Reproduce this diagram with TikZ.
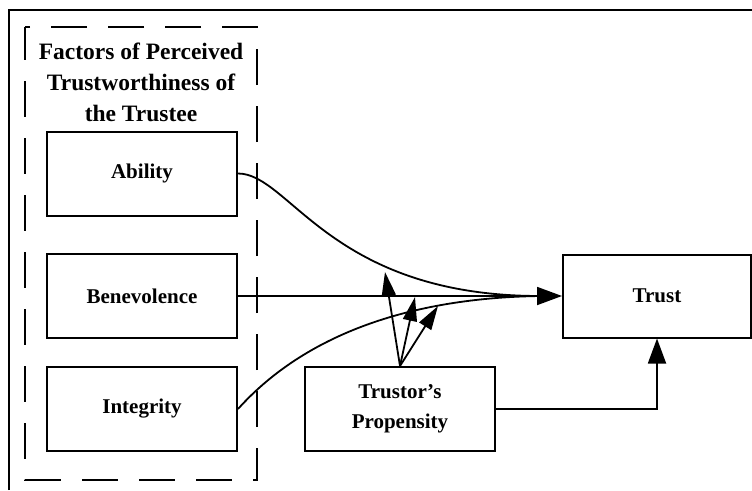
\documentclass[tikz,border=0pt]{standalone}
\usepackage{fontspec}
\setmainfont{Liberation Serif}
\usetikzlibrary{arrows.meta}
\begin{document}
\begin{tikzpicture}[x=1pt,y=-1pt,
  box/.style={draw, line width=2pt, minimum width=190pt, minimum height=84pt,
              font=\bfseries\fontsize{21}{30}\selectfont, align=center, inner sep=0pt},
  link/.style={line width=1.8pt},
  bighead/.style={-{Triangle[length=25pt,width=18pt]}},
  smallhead/.style={-{Triangle[length=24pt,width=14pt]}}]
\useasboundingbox (0,0) rectangle (752,490);
% outer frame
\draw[line width=2pt] (9,490) -- (9,10) -- (752,10);
% dashed group of trustworthiness factors
\draw[line width=2pt, dash pattern=on 36pt off 21pt, dash phase=3pt]
  (25,27) -- (25,480) -- (257,480) -- (257,27) -- cycle;
\node[font=\bfseries\fontsize{23.5}{31}\selectfont, align=center] (title) at (141,82)
  {Factors of Perceived\\Trustworthiness of\\the Trustee};
% factor boxes
\node[box] (ability) at (142,173.5) {Ability};
\node[box] (benev) at (142,296) {Benevolence};
\node[box] (integ) at (142,409) {Integrity};
\node[box] (prop) at (400,409) {Trustor's\\Propensity};
\node[box, minimum width=188pt, minimum height=83pt] (trust) at (657,296) {Trust};
% paths into Trust
\coordinate (merge) at (540,296);
\draw[link] (ability.east) .. controls (290,173.5) and (330,296) .. (merge);
\draw[link] (integ.east) .. controls (300,340) and (400,298) .. (merge);
\draw[link, bighead] (benev.east) -- (trust.west);
% moderating arrows from propensity
\coordinate (pa) at (385,272);
\coordinate (pb) at (415,297);
\coordinate (pc) at (438,306);
\coordinate (src) at (400,366);
\draw[link, smallhead] (src) -- (pa);
\draw[link, smallhead] (src) -- (pb);
\draw[link, smallhead] (src) -- (pc);
\draw[link, bighead] (prop.east) -| (trust.south);
\end{tikzpicture}
\end{document}
